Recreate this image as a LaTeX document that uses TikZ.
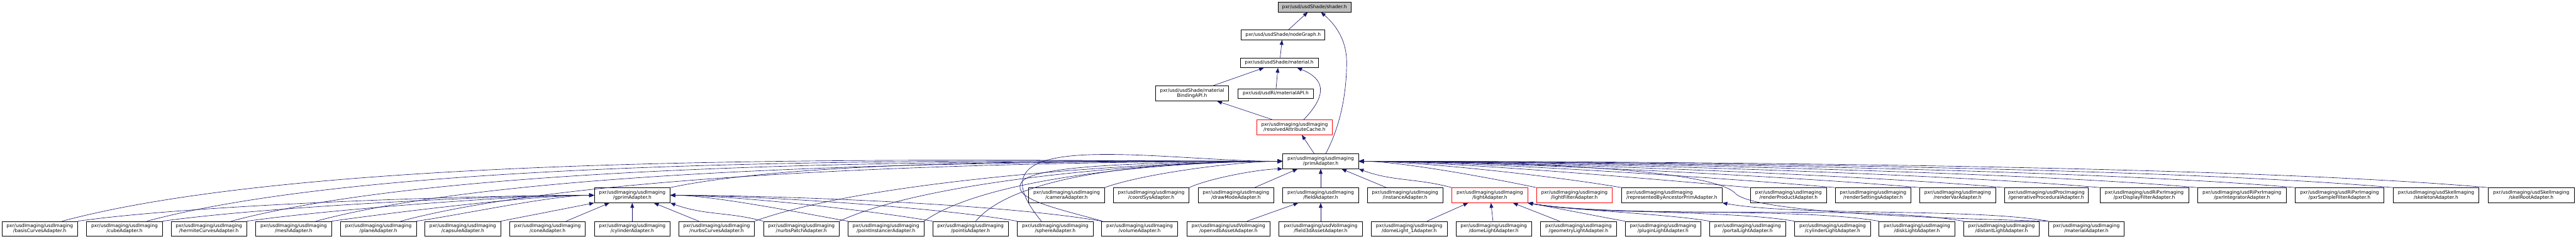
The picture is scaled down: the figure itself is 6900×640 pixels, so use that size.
\documentclass[tikz,border=0pt]{standalone}
\usepackage{fontspec}
\setmainfont{DejaVu Sans}
\usetikzlibrary{arrows.meta,calc}
\definecolor{edgecol}{HTML}{191970}
\definecolor{grayfill}{HTML}{BFBFBF}
\tikzset{
  box/.style={draw=black, line width=0.12pt, fill=white, minimum height=4pt, inner sep=0pt, align=center, font=\fontsize{1.27}{1.36}\selectfont},
  lbox/.style={box, align=left},
  onebox/.style={box, minimum height=2.6pt},
  redbox/.style={box, draw=red},
  rootbox/.style={onebox, fill=grayfill},
  edge/.style={draw=edgecol, line width=0.11pt, -{Triangle[length=1.3pt,width=1.0pt]}},
  lft/.style={out=#1, in=180, looseness=0.6},
  rgt/.style={out=#1, in=0, looseness=0.6},
}
\newcommand\nd[7]{\node[#1,minimum width={#5*0.1pt}] (#2) at (#3,#4) {#6\\#7};}
\newcommand\ndone[6]{\node[#1,minimum width={#5*0.1pt}] (#2) at (#3,#4) {#6};}
\begin{document}
\begin{tikzpicture}[x=0.1pt,y=0.1pt]
\useasboundingbox (0,0) rectangle (6900,640);
% top part
\ndone{rootbox}{shader}{3521}{621}{196}{pxr/usd/usdShade/shader.h}
\ndone{onebox}{nodegraph}{3437}{546.5}{224}{pxr/usd/usdShade/nodeGraph.h}
\ndone{onebox}{material}{3426.5}{472}{209}{pxr/usd/usdShade/material.h}
\nd{box}{mbapi}{3193}{389.5}{196}{pxr/usd/usdShade/material}{BindingAPI.h}
\ndone{onebox}{riapi}{3417}{389.5}{202}{pxr/usd/usdRi/materialAPI.h}
\nd{redbox}{resolved}{3467.5}{299}{203}{pxr/usdImaging/usdImaging}{/resolvedAttributeCache.h}
\nd{box}{prim}{3537.5}{208}{203}{pxr/usdImaging/usdImaging}{/primAdapter.h}
% middle row
\nd{box}{gprim}{1693.5}{117}{203}{pxr/usdImaging/usdImaging}{/gprimAdapter.h}
\nd{box}{camera}{2857}{117}{203}{pxr/usdImaging/usdImaging}{/cameraAdapter.h}
\nd{box}{coordsys}{3083.5}{117}{203}{pxr/usdImaging/usdImaging}{/coordSysAdapter.h}
\nd{box}{drawmode}{3310.5}{117}{203}{pxr/usdImaging/usdImaging}{/drawModeAdapter.h}
\nd{box}{field}{3537.5}{117}{203}{pxr/usdImaging/usdImaging}{/fieldAdapter.h}
\nd{box}{instance}{3763.5}{117}{203}{pxr/usdImaging/usdImaging}{/instanceAdapter.h}
\nd{redbox}{light}{3990.5}{117}{203}{pxr/usdImaging/usdImaging}{/lightAdapter.h}
\nd{redbox}{lightfilter}{4217}{117}{203}{pxr/usdImaging/usdImaging}{/lightFilterAdapter.h}
\nd{lbox}{represented}{4478}{117}{270}{pxr/usdImaging/usdImaging}{/representedByAncestorPrimAdapter.h}
\nd{box}{renderproduct}{4790.5}{117}{203}{pxr/usdImaging/usdImaging}{/renderProductAdapter.h}
\nd{box}{rendersettings}{5017}{117}{203}{pxr/usdImaging/usdImaging}{/renderSettingsAdapter.h}
\nd{box}{rendervar}{5243.5}{117}{203}{pxr/usdImaging/usdImaging}{/renderVarAdapter.h}
\nd{box}{generative}{5481}{117}{224}{pxr/usdImaging/usdProcImaging}{/generativeProceduralAdapter.h}
\nd{box}{pxrdisplay}{5743.5}{117}{237}{pxr/usdImaging/usdRiPxrImaging}{/pxrDisplayFilterAdapter.h}
\nd{box}{pxrintegrator}{6005}{117}{238}{pxr/usdImaging/usdRiPxrImaging}{/pxrIntegratorAdapter.h}
\nd{box}{pxrsample}{6266.5}{117}{237}{pxr/usdImaging/usdRiPxrImaging}{/pxrSampleFilterAdapter.h}
\nd{box}{skeleton}{6525}{117}{230}{pxr/usdImaging/usdSkelImaging}{/skeletonAdapter.h}
\nd{box}{skelroot}{6780}{117}{230}{pxr/usdImaging/usdSkelImaging}{/skelRootAdapter.h}
% bottom row
\nd{box}{basis}{106.5}{27}{203}{pxr/usdImaging/usdImaging}{/basisCurvesAdapter.h}
\nd{box}{cube}{333.5}{27}{203}{pxr/usdImaging/usdImaging}{/cubeAdapter.h}
\nd{box}{hermite}{559.5}{27}{203}{pxr/usdImaging/usdImaging}{/hermiteCurvesAdapter.h}
\nd{box}{mesh}{786.5}{27}{203}{pxr/usdImaging/usdImaging}{/meshAdapter.h}
\nd{box}{plane}{1013.5}{27}{203}{pxr/usdImaging/usdImaging}{/planeAdapter.h}
\nd{box}{capsule}{1239.5}{27}{203}{pxr/usdImaging/usdImaging}{/capsuleAdapter.h}
\nd{box}{cone}{1466.5}{27}{203}{pxr/usdImaging/usdImaging}{/coneAdapter.h}
\nd{box}{cylinder}{1693.5}{27}{203}{pxr/usdImaging/usdImaging}{/cylinderAdapter.h}
\nd{box}{nurbscurves}{1919.5}{27}{203}{pxr/usdImaging/usdImaging}{/nurbsCurvesAdapter.h}
\nd{box}{nurbspatch}{2146.5}{27}{203}{pxr/usdImaging/usdImaging}{/nurbsPatchAdapter.h}
\nd{box}{pointinst}{2373}{27}{203}{pxr/usdImaging/usdImaging}{/pointInstancerAdapter.h}
\nd{box}{points}{2599.5}{27}{203}{pxr/usdImaging/usdImaging}{/pointsAdapter.h}
\nd{box}{sphere}{2826.5}{27}{203}{pxr/usdImaging/usdImaging}{/sphereAdapter.h}
\nd{box}{volume}{3052.5}{27}{203}{pxr/usdImaging/usdImaging}{/volumeAdapter.h}
\nd{box}{openvdb}{3290.5}{27}{223}{pxr/usdImaging/usdVolImaging}{/openvdbAssetAdapter.h}
\nd{box}{field3d}{3537.5}{27}{223}{pxr/usdImaging/usdVolImaging}{/field3dAssetAdapter.h}
\nd{box}{domeone}{3774.5}{27}{203}{pxr/usdImaging/usdImaging}{/domeLight\_1Adapter.h}
\nd{box}{dome}{4001}{27}{203}{pxr/usdImaging/usdImaging}{/domeLightAdapter.h}
\nd{box}{geometry}{4228}{27}{203}{pxr/usdImaging/usdImaging}{/geometryLightAdapter.h}
\nd{box}{plugin}{4454.5}{27}{203}{pxr/usdImaging/usdImaging}{/pluginLightAdapter.h}
\nd{box}{portal}{4681}{27}{203}{pxr/usdImaging/usdImaging}{/portalLightAdapter.h}
\nd{box}{cyllight}{4908.5}{27}{203}{pxr/usdImaging/usdImaging}{/cylinderLightAdapter.h}
\nd{box}{disk}{5134.5}{27}{203}{pxr/usdImaging/usdImaging}{/diskLightAdapter.h}
\nd{box}{distant}{5361}{27}{203}{pxr/usdImaging/usdImaging}{/distantLightAdapter.h}
\nd{box}{matadapter}{5588.5}{27}{203}{pxr/usdImaging/usdImaging}{/materialAdapter.h}
% top edges
\draw[edge] ($(nodegraph.north)+(14,0)$) -- ($(shader.south)+(-18,0)$);
\draw[edge] ($(material.north)+(2.5,0)$) -- ($(nodegraph.south)+(-3,0)$);
\draw[edge] ($(mbapi.north)+(55,0)$) -- ($(material.south)+(-41,0)$);
\draw[edge] ($(riapi.north)+(1,0)$) -- ($(material.south)+(-3.5,0)$);
\draw[edge] ($(resolved.north)+(24.5,0)$) .. controls (3560,390) and (3545,430) .. ($(material.south)+(48,0)$);
\draw[edge] ($(resolved.north)+(-59.5,0)$) -- ($(mbapi.south)+(67,0)$);
\draw[edge] ($(prim.north)+(-17.5,0)$) -- ($(resolved.south)+(19.5,0)$);
\draw[edge] ($(prim.north)+(13.5,0)$) .. controls (3600,320) and (3607,420) .. (3607,473) .. controls (3607,540) and (3570,580) .. ($(shader.south)+(17,0)$);
% edges to gprimAdapter
\foreach \s in {basis,cube,hermite,mesh,plane}
  \draw[edge] (\s.north east) to[lft=8] (gprim.west);
\draw[edge] (capsule.north east) -- (gprim.south west);
\draw[edge] ($(cone.north)+(50,0)$) -- ($(gprim.south)+(-61,0)$);
\draw[edge] (cylinder) -- (gprim);
\draw[edge] ($(nurbscurves.north)+(-48,0)$) -- ($(gprim.south)+(58,0)$);
\draw[edge] (nurbspatch.north west) to[out=165,in=-20] (gprim.south east);
\foreach \s in {pointinst,points,sphere,volume}
  \draw[edge] (\s.north west) to[rgt=170] (gprim.east);
% edges to primAdapter from the left
\foreach \s in {basis,cube,hermite,mesh,plane}
  \draw[edge] ($(\s.north)+(60,0)$) to[lft=15] (prim.west);
\draw[edge] (gprim.north east) to[lft=12] (prim.west);
\draw[edge] (nurbscurves.north east) to[lft=20] (prim.west);
\draw[edge] (nurbspatch.north east) to[lft=25] (prim.west);
\draw[edge] (pointinst.north east) to[lft=35] (prim.west);
\draw[edge] ($(points.north)+(14,0)$) to[lft=50] (prim.west);
\draw[edge] ($(sphere.north)+(-37,0)$) to[out=130,in=180,looseness=1.3] (prim.west);
\draw[edge] ($(volume.north)+(-100,0)$) .. controls (2840,80) and (2710,105) .. (2735,150) .. controls (2760,200) and (3100,205) .. (prim.west);
\draw[edge] (camera.north east) to[lft=20] (prim.west);
\draw[edge] (coordsys.north east) to[lft=25] (prim.south west);
\draw[edge] ($(drawmode.north)+(50,0)$) -- ($(prim.south)+(-62,0)$);
\draw[edge] (field) -- (prim);
\draw[edge] ($(instance.north)+(-50,0)$) -- ($(prim.south)+(56,0)$);
% edges to primAdapter from the right
\draw[edge] (light.north west) to[out=165,in=-20] (prim.south east);
\draw[edge] (lightfilter.north west) to[rgt=168] (prim.east);
\draw[edge] (represented.north west) to[rgt=170] (prim.east);
\foreach \s in {renderproduct,rendersettings,rendervar,generative,pxrdisplay,pxrintegrator,pxrsample,skeleton,skelroot}
  \draw[edge] (\s.north west) to[rgt=175] (prim.east);
\draw[edge] (matadapter.north west) .. controls (5000,60) and (4700,80) .. (4650,120) .. controls (4610,170) and (4300,205) .. (prim.east);
% edges to fieldAdapter
\draw[edge] ($(openvdb.north)+(50,0)$) -- ($(field.south)+(-60,0)$);
\draw[edge] (field3d) -- (field);
% edges to lightAdapter
\draw[edge] ($(domeone.north)+(48,0)$) -- ($(light.south)+(-58,0)$);
\draw[edge] ($(dome.north)+(-2,0)$) -- ($(light.south)+(3,0)$);
\draw[edge] ($(geometry.north)+(-51,0)$) -- ($(light.south)+(62,0)$);
\foreach \s in {plugin,portal,cyllight,disk,distant}
  \draw[edge] (\s.north west) to[out=170,in=-10,looseness=0.6] (light.south east);
\draw[edge] (matadapter.north west) to[out=170,in=-10,looseness=0.6] (represented.south east);
\end{tikzpicture}
\end{document}
